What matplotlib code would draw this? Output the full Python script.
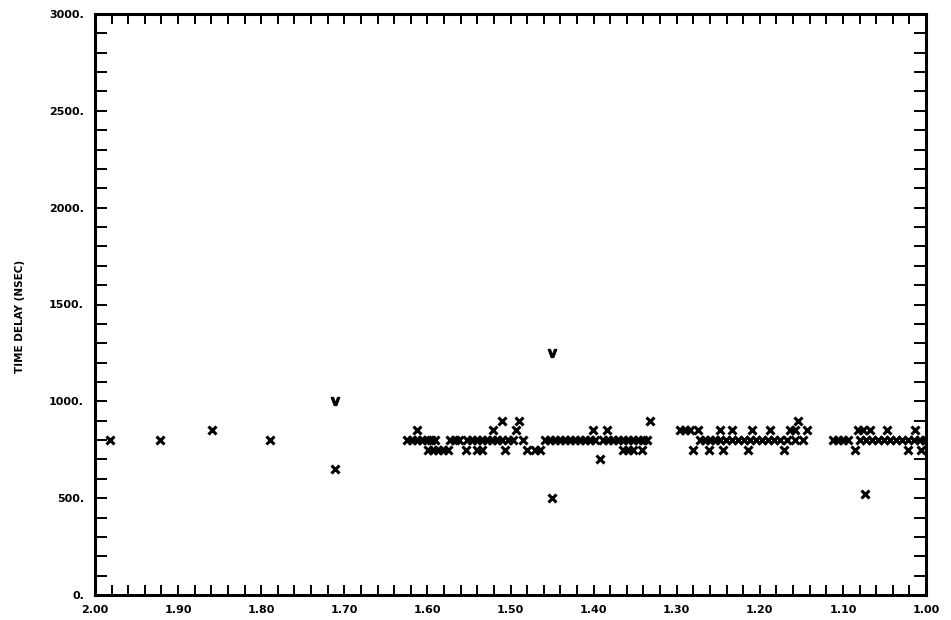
import matplotlib
matplotlib.use("Agg")
import matplotlib.pyplot as plt
from matplotlib.ticker import MultipleLocator, FixedLocator

# ---- data ----
x_at_800 = [1.982, 1.922, 1.789,
            1.625, 1.619, 1.613, 1.607, 1.600, 1.596, 1.591, 1.573, 1.567, 1.562,
            1.552, 1.546, 1.540, 1.534, 1.528, 1.522, 1.516, 1.510, 1.503, 1.497, 1.485,
            1.458, 1.452, 1.446, 1.440, 1.434, 1.428, 1.422, 1.416, 1.410, 1.404, 1.398,
            1.389, 1.383, 1.377, 1.371, 1.365, 1.359, 1.353, 1.347, 1.341, 1.336,
            1.272, 1.266, 1.260, 1.254, 1.248, 1.241, 1.233, 1.226, 1.219, 1.212, 1.205,
            1.197, 1.190, 1.183, 1.176, 1.167, 1.158, 1.148,
            1.112, 1.106, 1.100, 1.094, 1.079, 1.072, 1.065, 1.058, 1.051, 1.043, 1.036,
            1.029, 1.022, 1.014, 1.007, 1.001]
x_at_750 = [1.599, 1.593, 1.587, 1.581, 1.575, 1.554, 1.540, 1.534, 1.507, 1.480,
            1.471, 1.465, 1.365, 1.359, 1.353, 1.342, 1.280, 1.261, 1.244, 1.214,
            1.171, 1.085, 1.022, 1.006]
x_at_850 = [1.859, 1.613, 1.521, 1.493, 1.401, 1.384, 1.296, 1.290, 1.284, 1.274,
            1.248, 1.233, 1.209, 1.188, 1.164, 1.158, 1.143, 1.082, 1.076, 1.067,
            1.047, 1.013]
x_at_900 = [1.510, 1.490, 1.332, 1.154]
other_x = [1.711, 1.392, 1.450, 1.073]
other_y = [650, 700, 500, 520]
v_x = [1.711, 1.450]
v_y = [1000, 1250]

x_ticks = [2.00, 1.90, 1.80, 1.70, 1.60, 1.50, 1.40, 1.30, 1.20, 1.10, 1.00]
x_tick_labels = ["2.00", "1.90", "1.80", "1.70", "1.60", "1.50", "1.40", "1.30", "1.20", "1.10", "1.00"]
y_ticks = [0, 500, 1000, 1500, 2000, 2500, 3000]
y_tick_labels = ["0.", "500.", "1000.", "1500.", "2000.", "2500.", "3000."]
y_title = "TIME DELAY (NSEC)"

# ---- figure ----
fig = plt.figure(figsize=(9.51, 6.20), dpi=100)
ax = fig.add_axes([95 / 951, 1 - 595 / 620, (926 - 95) / 951, (595 - 14) / 620])

xs, ys = [], []
for lvl, arr in ((800, x_at_800), (750, x_at_750), (850, x_at_850), (900, x_at_900)):
    xs += arr
    ys += [lvl] * len(arr)
xs += other_x
ys += other_y

ax.plot(xs, ys, linestyle="none", marker="x", color="black",
        markersize=5.5, markeredgewidth=2.2)
ax.plot(v_x, v_y, linestyle="none", marker=r"$\mathbf{V}$", color="black",
        markersize=6)

ax.set_xlim(2.0, 1.0)
ax.set_ylim(0, 3000)

ax.xaxis.set_major_locator(FixedLocator(x_ticks))
ax.set_xticklabels(x_tick_labels, fontsize=8, fontweight="bold")
ax.xaxis.set_minor_locator(MultipleLocator(0.02))
ax.yaxis.set_major_locator(FixedLocator(y_ticks))
ax.set_yticklabels(y_tick_labels, fontsize=8, fontweight="bold")
ax.yaxis.set_minor_locator(MultipleLocator(100))

ax.tick_params(axis="x", which="both", direction="in", top=True, bottom=True,
               length=7, width=1.4, pad=7, color="black")
ax.tick_params(axis="y", which="both", direction="in", left=True, right=True,
               length=8.5, width=1.4, pad=8, color="black")

for sp in ax.spines.values():
    sp.set_linewidth(2.2)
    sp.set_color("black")

fig.text(20 / 951, 1 - 316 / 620, y_title, rotation=90, ha="center", va="center",
         fontsize=7.5, fontweight="bold")

fig.savefig("out.png", dpi=100, facecolor="white")
